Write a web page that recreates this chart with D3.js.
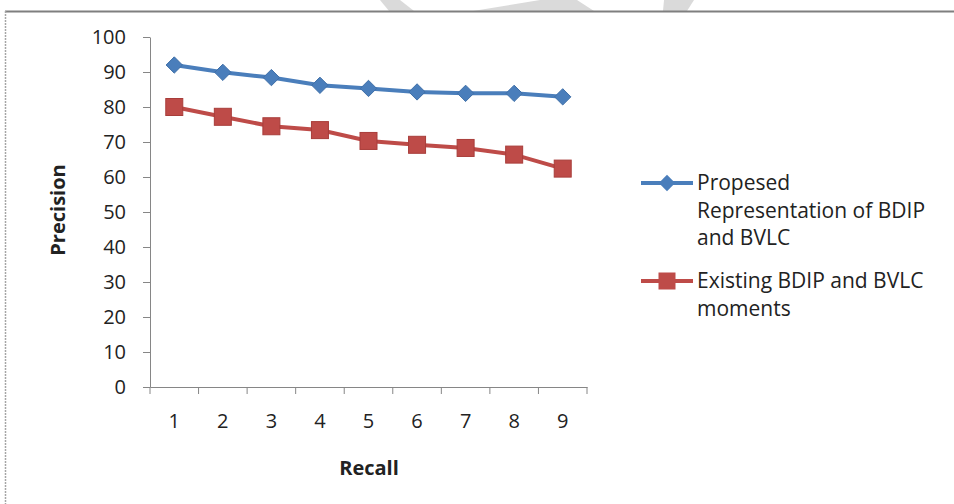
<!DOCTYPE html>
<html>
<head>
<meta charset="utf-8">
<script src="https://cdn.jsdelivr.net/npm/d3@7"></script>
<style>
  body { margin: 0; background: #fff; }
  text { font-family: "Open Sans", "DejaVu Sans", sans-serif; fill: #222; }
  .axis path, .axis line { stroke: #868686; }
  .axis text { font-size: 20px; fill: #222; }
  .aTitle { font-weight: bold; font-size: 20px; }
  .legText { font-size: 21px; }
</style>
</head>
<body>
<div id="chart"></div>
<script>
// chart data
var recall = [1, 2, 3, 4, 5, 6, 7, 8, 9];
var proposed = [92, 89.9, 88.4, 86.2, 85.3, 84.3, 83.9, 83.9, 82.9];
var existing = [80, 77.2, 74.5, 73.4, 70.3, 69.2, 68.3, 66.4, 62.4];
var yTicks = [0, 10, 20, 30, 40, 50, 60, 70, 80, 90, 100];
var legendNames = [
    ["Propesed", "Representation of BDIP", "and BVLC"],
    ["Existing BDIP and BVLC", "moments"]
];

var svgWidth = 954;
var svgHeight = 504;

var margin = { top: 37, right: 367, bottom: 117, left: 150 };
var width = svgWidth - margin.left - margin.right;
var height = svgHeight - margin.top - margin.bottom;

var svg = d3.select("#chart")
    .append("svg")
    .attr("width", svgWidth)
    .attr("height", svgHeight);

// faint watermark bits above the frame
var wm = [
    [[380, 0], [400, 0], [414, 11], [389, 11]],
    [[540, 0], [577, 0], [594, 11], [473, 11]],
    [[664, 0], [694, 0], [687, 11], [663, 11]]
];
svg.selectAll(".wm")
    .data(wm)
    .enter()
    .append("polygon")
    .attr("points", d => d.map(p => p.join(",")).join(" "))
    .attr("fill", "#dadada");

// outer frame
svg.append("line")
    .attr("x1", 5).attr("x2", svgWidth).attr("y1", 11.5).attr("y2", 11.5)
    .attr("stroke", "#7f7f7f").attr("stroke-width", 2);
svg.append("line")
    .attr("x1", 5.5).attr("x2", 5.5).attr("y1", 11).attr("y2", svgHeight)
    .attr("stroke", "#a6a6a6").attr("stroke-width", 1.5)
    .attr("stroke-dasharray", "2,1");

var chartGroup = svg.append("g")
    .attr("transform", `translate(${margin.left}, ${margin.top})`);

// scales
var xBand = d3.scaleBand()
    .domain(recall)
    .range([0, width]);

var yLinearScale = d3.scaleLinear()
    .domain([0, 100])
    .range([height, 0]);

var xCenter = d => xBand(d) + xBand.bandwidth() / 2;

// axes
var leftAxis = d3.axisLeft(yLinearScale)
    .tickValues(yTicks)
    .tickSize(7)
    .tickPadding(17)
    .tickSizeOuter(0);

chartGroup.append("g")
    .attr("class", "axis")
    .call(leftAxis);

var bottomAxis = d3.axisBottom(xBand)
    .tickSize(0)
    .tickPadding(27);

var xAxisG = chartGroup.append("g")
    .attr("class", "axis")
    .attr("transform", `translate(0, ${height})`)
    .call(bottomAxis);

// ticks between categories
xAxisG.selectAll(".sep")
    .data(d3.range(recall.length + 1))
    .enter()
    .append("line")
    .attr("x1", i => i * xBand.step())
    .attr("x2", i => i * xBand.step())
    .attr("y1", 0)
    .attr("y2", 7)
    .attr("stroke", "#868686");

// lines
var lineGen = d3.line()
    .x((d, i) => xCenter(recall[i]))
    .y(d => yLinearScale(d));

chartGroup.append("path")
    .datum(proposed)
    .attr("d", lineGen)
    .attr("fill", "none")
    .attr("stroke", "#4a7ebb")
    .attr("stroke-width", 4);

chartGroup.append("path")
    .datum(existing)
    .attr("d", lineGen)
    .attr("fill", "none")
    .attr("stroke", "#be4b48")
    .attr("stroke-width", 4);

// markers
var diamond = d3.symbol().type(d3.symbolDiamond2).size(170);

chartGroup.append("g")
    .selectAll("path")
    .data(proposed)
    .enter()
    .append("path")
    .attr("d", diamond)
    .attr("transform", (d, i) => `translate(${xCenter(recall[i])}, ${yLinearScale(d)})`)
    .attr("fill", "#4a7ebb")
    .attr("stroke", "#3f6fa8")
    .attr("stroke-width", 1);

chartGroup.append("g")
    .selectAll("rect")
    .data(existing)
    .enter()
    .append("rect")
    .attr("x", (d, i) => xCenter(recall[i]) - 8.5)
    .attr("y", d => yLinearScale(d) - 8.5)
    .attr("width", 17)
    .attr("height", 17)
    .attr("fill", "#be4b48")
    .attr("stroke", "#a83d3a")
    .attr("stroke-width", 1);

// axis titles
svg.append("text")
    .attr("class", "aTitle")
    .attr("text-anchor", "middle")
    .attr("transform", `translate(65, 210) rotate(-90)`)
    .text("Precision");

svg.append("text")
    .attr("class", "aTitle")
    .attr("text-anchor", "middle")
    .attr("x", 369)
    .attr("y", 475)
    .text("Recall");

// legend
var legColors = ["#4a7ebb", "#be4b48"];
var legY = [183, 281];

legendNames.forEach(function(lines, k) {
    var g = svg.append("g").attr("transform", `translate(641, ${legY[k]})`);
    g.append("line")
        .attr("x1", 0).attr("x2", 52)
        .attr("stroke", legColors[k]).attr("stroke-width", 4);
    if (k === 0) {
        g.append("path")
            .attr("d", diamond)
            .attr("transform", "translate(26, 0)")
            .attr("fill", legColors[k]);
    } else {
        g.append("rect")
            .attr("x", 17.5).attr("y", -8.5)
            .attr("width", 17).attr("height", 17)
            .attr("fill", legColors[k]);
    }
    var t = g.append("text")
        .attr("class", "legText")
        .attr("x", 56)
        .attr("y", 7);
    lines.forEach(function(s, j) {
        t.append("tspan")
            .attr("x", 56)
            .attr("dy", j === 0 ? 0 : 27.5)
            .text(s);
    });
});
</script>
</body>
</html>
